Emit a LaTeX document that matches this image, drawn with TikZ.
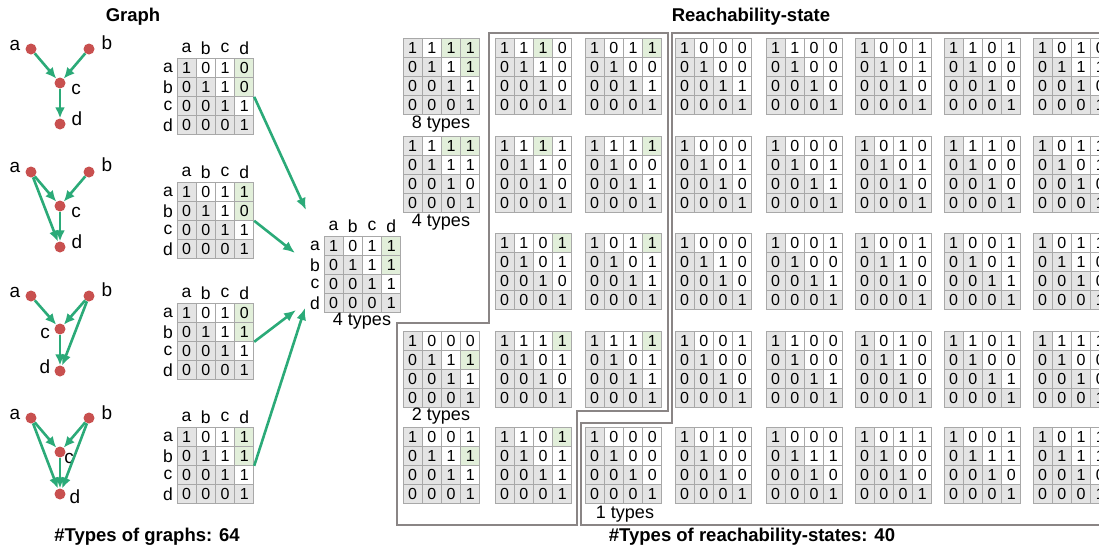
\documentclass[tikz,border=0pt]{standalone}
\usepackage{fontspec}
\setmainfont{Liberation Sans}
\usetikzlibrary{arrows.meta}
\definecolor{cellgray}{HTML}{E4E4E4}
\definecolor{cellline}{HTML}{A8A8A8}
\definecolor{cellgreen}{HTML}{E2EFDA}
\definecolor{edgegreen}{HTML}{2BAA78}
\definecolor{nodered}{HTML}{C8504F}
\definecolor{framecol}{HTML}{8A8585}
\def\cw{19.2}
\tikzset{
  cell/.style={draw=cellline, line width=0.8pt, minimum width=19.2pt, minimum height=19.2pt, inner sep=0pt, font=\fontsize{16}{16}\selectfont},
  lbl/.style={inner sep=0pt, font=\fontsize{17.5}{17.5}\selectfont},
  glbl/.style={inner sep=0pt, font=\fontsize{19}{19}\selectfont},
  vtx/.style={circle, fill=nodered, minimum size=11pt, inner sep=0pt},
  gedge/.style={draw=edgegreen, line width=2.6pt, -{Latex[length=11pt,width=10pt]}},
  bigarrow/.style={draw=edgegreen, line width=2.6pt, -{Latex[length=12pt,width=10pt]}},
  frameline/.style={draw=framecol, line width=1.1pt},
  title/.style={inner sep=0pt, font=\bfseries\fontsize{18.5}{18.5}\selectfont},
  typestxt/.style={inner sep=0pt, font=\fontsize{18}{18}\selectfont}
}
% #1 name, #2 x, #3 y (top-left), #4 values, #5 green indices
\newcommand\drawmat[5]{%
  \foreach \v [count=\k] in {#4} {
    \pgfmathtruncatemacro\rr{int((\k-1)/4)+1}
    \pgfmathtruncatemacro\cc{mod(\k-1,4)+1}
    \ifnum\cc>\rr \gdef\cellfill{white}\else\gdef\cellfill{cellgray}\fi
    \foreach \gi in {#5}{\ifnum\gi=\k\relax\gdef\cellfill{cellgreen}\fi}
    \node[cell, fill=\cellfill] (#1-\rr-\cc) at ({#2+(\cc-0.5)*\cw},{#3+(\rr-0.5)*\cw}) {\v};
  }
}
% headers: #1 name, #2 x, #3 y
\newcommand\drawheads[3]{%
  \foreach \l [count=\k] in {a,b,c,d} {
    \node[lbl] (#1-h\k) at ({#2+(\k-0.5)*\cw},{#3-10}) {\l};
    \node[lbl] (#1-r\k) at ({#2-9},{#3+(\k-0.5)*\cw}) {\l};
  }
}
\begin{document}
\begin{tikzpicture}[x=1pt,y=-1pt]
\useasboundingbox (0,0) rectangle (1099,546);
\clip (0,0) rectangle (1099,546);

% titles
\node[title] (tgraph) at (133,17) {Graph};
\node[title] (treach) at (751,17) {Reachability-state};
\node[title] (bgraph) at (147,537) {\#Types of graphs: 64};
\node[title] (breach) at (752,537) {\#Types of reachability-states: 40};

% ---------- graphs ----------
% G1
\node[vtx] (g1a) at (31,49) {};
\node[vtx] (g1b) at (89,49) {};
\node[vtx] (g1c) at (60,83) {};
\node[vtx] (g1d) at (60,124) {};
\node[glbl] (g1la) at (15,45) {a};
\node[glbl] (g1lb) at (107,43) {b};
\node[glbl] (g1lc) at (76,89) {c};
\node[glbl] (g1ld) at (77,119) {d};
\draw[gedge] (g1a) -- (g1c);
\draw[gedge] (g1b) -- (g1c);
\draw[gedge] (g1c) -- (g1d);
% G2
\node[vtx] (g2a) at (31,172) {};
\node[vtx] (g2b) at (89,172) {};
\node[vtx] (g2c) at (60,206) {};
\node[vtx] (g2d) at (60,247) {};
\node[glbl] (g2la) at (15,167) {a};
\node[glbl] (g2lb) at (107,165) {b};
\node[glbl] (g2lc) at (76,212) {c};
\node[glbl] (g2ld) at (77,242) {d};
\draw[gedge] (g2a) -- (g2c);
\draw[gedge] (g2b) -- (g2c);
\draw[gedge] (g2c) -- (g2d);
\draw[gedge] (g2a) -- (g2d);
% G3
\node[vtx] (g3a) at (31,296) {};
\node[vtx] (g3b) at (89,296) {};
\node[vtx] (g3c) at (60,329) {};
\node[vtx] (g3d) at (60,371) {};
\node[glbl] (g3la) at (15,292) {a};
\node[glbl] (g3lb) at (107,290) {b};
\node[glbl] (g3lc) at (45,333) {c};
\node[glbl] (g3ld) at (45,367) {d};
\draw[gedge] (g3a) -- (g3c);
\draw[gedge] (g3b) -- (g3c);
\draw[gedge] (g3c) -- (g3d);
\draw[gedge] (g3b) -- (g3d);
% G4
\node[vtx] (g4a) at (31,418) {};
\node[vtx] (g4b) at (89,418) {};
\node[vtx] (g4c) at (60,452) {};
\node[vtx] (g4d) at (60,494) {};
\node[glbl] (g4la) at (15,414) {a};
\node[glbl] (g4lb) at (107,413) {b};
\node[glbl] (g4lc) at (69,458) {c};
\node[glbl] (g4ld) at (75,497) {d};
\draw[gedge] (g4a) -- (g4c);
\draw[gedge] (g4b) -- (g4c);
\draw[gedge] (g4c) -- (g4d);
\draw[gedge] (g4a) -- (g4d);
\draw[gedge] (g4b) -- (g4d);

% ---------- adjacency matrices ----------
\drawheads{gm1}{177}{58}
\drawmat{gm1}{177}{58}{1,0,1,0, 0,1,1,0, 0,0,1,1, 0,0,0,1}{4,8}
\drawheads{gm2}{177}{182}
\drawmat{gm2}{177}{182}{1,0,1,1, 0,1,1,0, 0,0,1,1, 0,0,0,1}{4,8}
\drawheads{gm3}{177}{303}
\drawmat{gm3}{177}{303}{1,0,1,0, 0,1,1,1, 0,0,1,1, 0,0,0,1}{4,8}
\drawheads{gm4}{177}{427}
\drawmat{gm4}{177}{427}{1,0,1,1, 0,1,1,1, 0,0,1,1, 0,0,0,1}{4,8}

% center
\drawheads{cm}{324}{236}
\drawmat{cm}{324}{236}{1,0,1,1, 0,1,1,1, 0,0,1,1, 0,0,0,1}{4,8}
\node[typestxt] (cmt) at (362,321) {4 types};

% big arrows
\coordinate (t1) at (306,210);
\coordinate (t2) at (295,253);
\coordinate (t3) at (296,310);
\coordinate (t4) at (305,308);
\draw[bigarrow] (gm1-2-4.south east) -- (t1);
\draw[bigarrow] (gm2-2-4.south east) -- (t2);
\draw[bigarrow] (gm3-2-4.south east) -- (t3);
\draw[bigarrow] (gm4-2-4.south east) -- (t4);

% ---------- frames ----------
\draw[frameline] (397,525) -- (397,323) -- (489,323) -- (489,33) -- (668,33) -- (668,411) -- (577,411) -- (577,525) -- cycle;
\draw[frameline] (1110,33) -- (672,33) -- (672,423) -- (581,423) -- (581,525) -- (1110,525);

% ---------- reachability states ----------
% column A
\drawmat{mA1}{403}{38}{1,1,1,1, 0,1,1,1, 0,0,1,1, 0,0,0,1}{3,4,8}
\node[typestxt] (tA1) at (441,124) {8 types};
\drawmat{mA2}{403}{136}{1,1,1,1, 0,1,1,1, 0,0,1,0, 0,0,0,1}{3,4}
\node[typestxt] (tA2) at (441,222) {4 types};
\drawmat{mA4}{403}{331}{1,0,0,0, 0,1,1,1, 0,0,1,1, 0,0,0,1}{8}
\node[typestxt] (tA4) at (441,416) {2 types};
\drawmat{mA5}{403}{427}{1,0,0,1, 0,1,1,1, 0,0,1,1, 0,0,0,1}{8}
% column B
\drawmat{mB1}{495}{38}{1,1,1,0, 0,1,1,0, 0,0,1,0, 0,0,0,1}{3}
\drawmat{mB2}{495}{136}{1,1,1,1, 0,1,1,0, 0,0,1,0, 0,0,0,1}{3}
\drawmat{mB3}{495}{233}{1,1,0,1, 0,1,0,1, 0,0,1,0, 0,0,0,1}{4}
\drawmat{mB4}{495}{331}{1,1,1,1, 0,1,0,1, 0,0,1,0, 0,0,0,1}{4}
\drawmat{mB5}{495}{427}{1,1,0,1, 0,1,0,1, 0,0,1,1, 0,0,0,1}{4}
% column C
\drawmat{mC1}{585}{38}{1,0,1,1, 0,1,0,0, 0,0,1,1, 0,0,0,1}{4}
\drawmat{mC2}{585}{136}{1,1,1,1, 0,1,0,0, 0,0,1,1, 0,0,0,1}{4}
\drawmat{mC3}{585}{233}{1,0,1,1, 0,1,0,1, 0,0,1,1, 0,0,0,1}{4}
\drawmat{mC4}{585}{331}{1,1,1,1, 0,1,0,1, 0,0,1,1, 0,0,0,1}{4}
\drawmat{mC5}{585}{427}{1,0,0,0, 0,1,0,0, 0,0,1,0, 0,0,0,1}{0}
\node[typestxt] (tC5) at (625,514) {1 types};
% column D
\drawmat{mD1}{675}{38}{1,0,0,0, 0,1,0,0, 0,0,1,1, 0,0,0,1}{0}
\drawmat{mD2}{675}{136}{1,0,0,0, 0,1,0,1, 0,0,1,0, 0,0,0,1}{0}
\drawmat{mD3}{675}{233}{1,0,0,0, 0,1,1,0, 0,0,1,0, 0,0,0,1}{0}
\drawmat{mD4}{675}{331}{1,0,0,1, 0,1,0,0, 0,0,1,0, 0,0,0,1}{0}
\drawmat{mD5}{675}{427}{1,0,1,0, 0,1,0,0, 0,0,1,0, 0,0,0,1}{0}
% column E
\drawmat{mE1}{766}{38}{1,1,0,0, 0,1,0,0, 0,0,1,0, 0,0,0,1}{0}
\drawmat{mE2}{766}{136}{1,0,0,0, 0,1,0,1, 0,0,1,1, 0,0,0,1}{0}
\drawmat{mE3}{766}{233}{1,0,0,1, 0,1,0,0, 0,0,1,1, 0,0,0,1}{0}
\drawmat{mE4}{766}{331}{1,1,0,0, 0,1,0,0, 0,0,1,1, 0,0,0,1}{0}
\drawmat{mE5}{766}{427}{1,0,0,0, 0,1,1,1, 0,0,1,0, 0,0,0,1}{0}
% column F
\drawmat{mF1}{855}{38}{1,0,0,1, 0,1,0,1, 0,0,1,0, 0,0,0,1}{0}
\drawmat{mF2}{855}{136}{1,0,1,0, 0,1,0,1, 0,0,1,0, 0,0,0,1}{0}
\drawmat{mF3}{855}{233}{1,0,0,1, 0,1,1,0, 0,0,1,0, 0,0,0,1}{0}
\drawmat{mF4}{855}{331}{1,0,1,0, 0,1,1,0, 0,0,1,0, 0,0,0,1}{0}
\drawmat{mF5}{855}{427}{1,0,1,1, 0,1,0,0, 0,0,1,0, 0,0,0,1}{0}
% column G
\drawmat{mG1}{944}{38}{1,1,0,1, 0,1,0,0, 0,0,1,0, 0,0,0,1}{0}
\drawmat{mG2}{944}{136}{1,1,1,0, 0,1,0,0, 0,0,1,0, 0,0,0,1}{0}
\drawmat{mG3}{944}{233}{1,0,0,1, 0,1,0,1, 0,0,1,1, 0,0,0,1}{0}
\drawmat{mG4}{944}{331}{1,1,0,1, 0,1,0,0, 0,0,1,1, 0,0,0,1}{0}
\drawmat{mG5}{944}{427}{1,0,0,1, 0,1,1,1, 0,0,1,0, 0,0,0,1}{0}
% column H
\drawmat{mH1}{1033}{38}{1,0,1,0, 0,1,1,1, 0,0,1,0, 0,0,0,1}{0}
\drawmat{mH2}{1033}{136}{1,0,1,1, 0,1,0,1, 0,0,1,0, 0,0,0,1}{0}
\drawmat{mH3}{1033}{233}{1,0,1,1, 0,1,1,0, 0,0,1,0, 0,0,0,1}{0}
\drawmat{mH4}{1033}{331}{1,1,1,1, 0,1,0,0, 0,0,1,0, 0,0,0,1}{0}
\drawmat{mH5}{1033}{427}{1,0,1,1, 0,1,1,1, 0,0,1,0, 0,0,0,1}{0}
\end{tikzpicture}
\end{document}
